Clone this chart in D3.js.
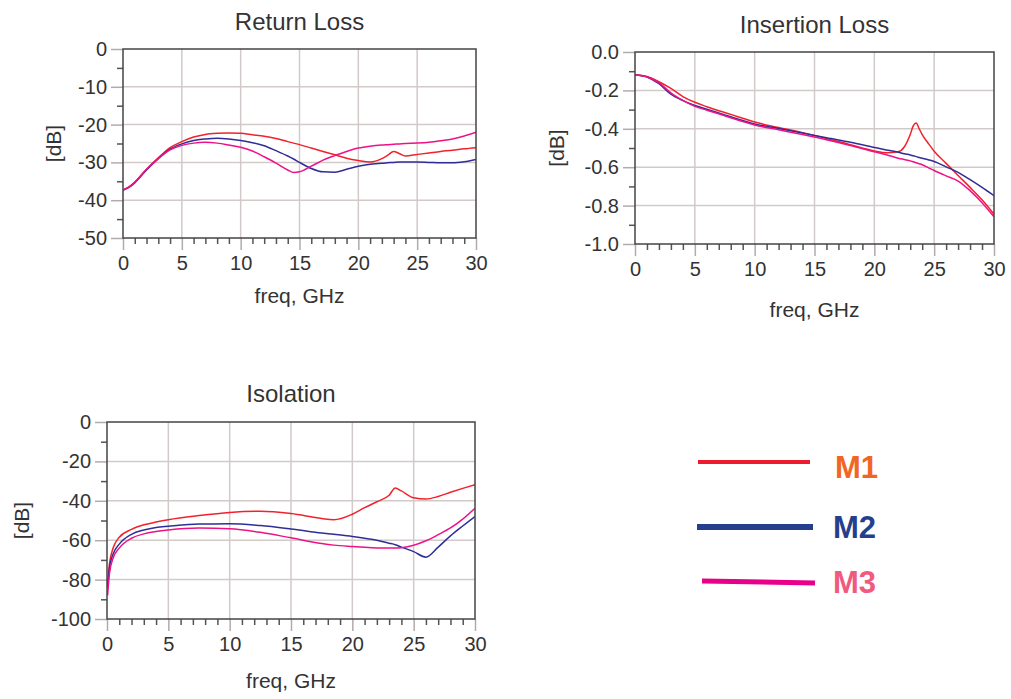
<!DOCTYPE html>
<html>
<head>
    <meta charset="utf-8">
    <title>S-parameters</title>
    <script src="https://d3js.org/d3.v7.min.js"></script>
    <style>
        html, body { margin: 0; padding: 0; background: #fff; }
        svg text { font-family: "Liberation Sans", Arial, sans-serif; }
    </style>
</head>
<body>
<div id="chart"></div>
<script>
    // Series names and colours
    const seriesNames = ["M1", "M2", "M3"];
    const lineColors = { M1: "#f2222c", M2: "#2e2e96", M3: "#ee1188" };
    const legendColors = { M1: "#ec1c2e", M2: "#263f8c", M3: "#e8008a" };
    const labelColors = { M1: "#f26522", M2: "#263f8c", M3: "#f05a7e" };

    // Shared x ticks (GHz)
    const xTicks = [0, 5, 10, 15, 20, 25, 30];

    // Return Loss
    const rlFreq = [0, 0.5, 1, 2, 3, 4, 5, 6, 7, 8, 9, 10, 11, 12, 13, 14, 14.5, 15, 16, 17, 18, 19, 20, 21, 22, 22.5, 23, 23.5, 24, 25, 26, 27, 28, 29, 30];
    const rlM1 = [-37.3, -36.5, -35.2, -31.8, -28.8, -26.1, -24.5, -23.3, -22.6, -22.3, -22.2, -22.3, -22.7, -23.1, -23.7, -24.5, -24.9, -25.3, -26.2, -27.1, -28.0, -28.9, -29.5, -29.9, -29.0, -28.1, -27.1, -27.7, -28.3, -27.9, -27.5, -27.1, -26.8, -26.4, -26.1];
    const rlM2 = [-37.3, -36.6, -35.4, -32.0, -29.0, -26.5, -25.1, -24.2, -23.8, -23.6, -23.8, -24.2, -24.8, -25.6, -26.9, -28.3, -29.1, -30.0, -31.6, -32.5, -32.6, -31.8, -31.0, -30.5, -30.2, -30.1, -30.0, -29.9, -29.9, -29.9, -30.0, -30.1, -30.1, -29.8, -29.2];
    const rlM3 = [-37.3, -36.6, -35.3, -31.8, -29.0, -26.7, -25.5, -24.9, -24.7, -24.9, -25.4, -26.0, -27.0, -28.5, -30.2, -32.0, -32.7, -32.5, -31.0, -29.4, -28.2, -27.1, -26.2, -25.7, -25.4, -25.3, -25.2, -25.1, -25.0, -24.9, -24.7, -24.3, -23.8, -23.0, -22.0];
    const rlTicks = [0, -10, -20, -30, -40, -50];

    // Insertion Loss
    const ilFreq = [0, 1, 2, 3, 4, 5, 6, 7, 8, 9, 10, 12, 14, 16, 18, 20, 21, 22, 22.5, 23, 23.25, 23.5, 23.75, 24, 24.5, 25, 26, 27, 28, 29, 30];
    const ilM1 = [-0.118, -0.128, -0.155, -0.19, -0.232, -0.262, -0.285, -0.306, -0.325, -0.345, -0.365, -0.393, -0.42, -0.45, -0.483, -0.515, -0.525, -0.52, -0.495, -0.43, -0.385, -0.37, -0.40, -0.43, -0.475, -0.517, -0.58, -0.643, -0.705, -0.77, -0.845];
    const ilM2 = [-0.118, -0.13, -0.165, -0.22, -0.253, -0.278, -0.298, -0.318, -0.337, -0.357, -0.375, -0.398, -0.422, -0.447, -0.47, -0.497, -0.51, -0.522, -0.53, -0.536, -0.54, -0.545, -0.549, -0.553, -0.561, -0.57, -0.598, -0.627, -0.665, -0.705, -0.748];
    const ilM3 = [-0.118, -0.13, -0.16, -0.213, -0.252, -0.283, -0.303, -0.322, -0.342, -0.362, -0.38, -0.405, -0.43, -0.457, -0.487, -0.52, -0.535, -0.553, -0.56, -0.567, -0.572, -0.577, -0.582, -0.587, -0.602, -0.617, -0.645, -0.672, -0.722, -0.785, -0.858];
    const ilTicks = [0.0, -0.2, -0.4, -0.6, -0.8, -1.0];

    // Isolation
    const isoFreq = [0.05, 0.2, 0.5, 1, 2, 3, 4, 5, 7.5, 10, 12.5, 15, 17.5, 18.5, 20, 21, 22, 23, 23.5, 24, 25, 26, 27, 28, 29, 30];
    const isoM1 = [-82, -72, -64, -58.5, -54.5, -52.2, -50.8, -49.6, -47.5, -45.9, -45.3, -46.5, -49.0, -49.6, -46.8, -43.5, -40.5, -37.2, -33.5, -35.0, -38.5, -39.1, -37.8, -35.7, -33.7, -31.8];
    const isoM2 = [-84, -74, -67, -62, -57, -54.8, -53.5, -52.9, -51.8, -51.7, -52.6, -54.3, -56.3, -57, -58.1, -59, -60, -61.5, -62.3, -63.5, -65.8, -68.6, -63.5, -57.8, -52.8, -48];
    const isoM3 = [-88, -77, -69, -64, -59, -56.8, -55.6, -54.8, -53.8, -54.2, -56, -58.8, -61.7, -62.5, -63.2, -63.6, -63.9, -64, -64, -63.8, -62.6, -60.3, -57.2, -53.8, -49.3, -43.8];
    const isoTicks = [0, -20, -40, -60, -80, -100];

    // plain hyphen for negative tick labels
    const locale = d3.formatLocale({ decimal: ".", thousands: ",", grouping: [3], currency: ["", ""], minus: "-" });

    const panels = [
        { title: "Return Loss", freq: rlFreq, series: [rlM1, rlM2, rlM3], yTicks: rlTicks, fmt: locale.format("d"),
          left: 123, right: 476, top: 49, bottom: 238, titleY: 30, xLabelY: 303, dbX: 54 },
        { title: "Insertion Loss", freq: ilFreq, series: [ilM1, ilM2, ilM3], yTicks: ilTicks, fmt: locale.format(".1f"),
          left: 635, right: 994, top: 52, bottom: 244, titleY: 33, xLabelY: 317, dbX: 557 },
        { title: "Isolation", freq: isoFreq, series: [isoM1, isoM2, isoM3], yTicks: isoTicks, fmt: locale.format("d"),
          left: 107, right: 475, top: 422, bottom: 619, titleY: 402, xLabelY: 688, dbX: 22 }
    ];

    const gridColor = "#d2c9c9";
    const tickColor = "#b3abab";
    const frameColor = "#444";
    const textColor = "#333";

    const svg = d3.select("#chart").append("svg")
        .attr("width", 1011)
        .attr("height", 699);

    svg.append("rect")
        .attr("width", 1011)
        .attr("height", 699)
        .attr("fill", "#fff");

    panels.forEach((p, idx) => {
        const yMin = d3.min(p.yTicks), yMax = d3.max(p.yTicks);
        const yStep = Math.abs(p.yTicks[1] - p.yTicks[0]);
        const x = d3.scaleLinear().domain([0, 30]).range([p.left, p.right]);
        const y = d3.scaleLinear().domain([yMin, yMax]).range([p.bottom, p.top]);
        const g = svg.append("g");
        const midX = (p.left + p.right) / 2;

        // grid
        g.append("g").selectAll("line").data(xTicks.slice(1, -1)).join("line")
            .attr("x1", d => x(d)).attr("x2", d => x(d))
            .attr("y1", p.top).attr("y2", p.bottom)
            .attr("stroke", gridColor).attr("stroke-width", 1.5);
        g.append("g").selectAll("line").data(p.yTicks.slice(1, -1)).join("line")
            .attr("x1", p.left).attr("x2", p.right)
            .attr("y1", d => y(d)).attr("y2", d => y(d))
            .attr("stroke", gridColor).attr("stroke-width", 1.5);

        // minor ticks
        const xMinor = d3.range(0, 31, 1).filter(d => d % 5 !== 0);
        const yMinor = p.yTicks.slice(0, -1).map(d => d - yStep / 2);

        const xMin = g.append("g")
            .attr("transform", `translate(0,${p.bottom})`)
            .call(d3.axisBottom(x).tickValues(xMinor).tickSize(6).tickFormat(""));
        const yMinAx = g.append("g")
            .attr("transform", `translate(${p.left},0)`)
            .call(d3.axisLeft(y).tickValues(yMinor).tickSize(6).tickFormat(""));
        [xMin, yMinAx].forEach(a => {
            a.select(".domain").remove();
            a.selectAll("line").attr("stroke", "#555").attr("stroke-width", 1.5);
        });

        // major ticks + labels
        const xMaj = g.append("g")
            .attr("transform", `translate(0,${p.bottom})`)
            .call(d3.axisBottom(x).tickValues(xTicks).tickSize(12).tickPadding(6).tickFormat(d3.format("d")));
        const yMaj = g.append("g")
            .attr("transform", `translate(${p.left},0)`)
            .call(d3.axisLeft(y).tickValues(p.yTicks).tickSize(12).tickPadding(4).tickFormat(p.fmt));
        [xMaj, yMaj].forEach(a => {
            a.select(".domain").remove();
            a.selectAll("line").attr("stroke", tickColor).attr("stroke-width", 1.5);
            a.selectAll("text")
                .attr("fill", textColor)
                .style("font-size", "20px")
                .style("font-family", "'Liberation Sans', Arial, sans-serif");
        });

        // curves
        const clipId = "clip" + idx;
        svg.append("clipPath").attr("id", clipId).append("rect")
            .attr("x", p.left).attr("y", p.top)
            .attr("width", p.right - p.left).attr("height", p.bottom - p.top);

        const line = d3.line()
            .x((d, i) => x(p.freq[i]))
            .y(d => y(d))
            .curve(d3.curveMonotoneX);

        p.series.forEach((vals, i) => {
            g.append("path")
                .datum(vals)
                .attr("clip-path", `url(#${clipId})`)
                .attr("fill", "none")
                .attr("stroke", lineColors[seriesNames[i]])
                .attr("stroke-width", 1.5)
                .attr("d", line);
        });

        // frame
        g.append("rect")
            .attr("x", p.left).attr("y", p.top)
            .attr("width", p.right - p.left).attr("height", p.bottom - p.top)
            .attr("fill", "none")
            .attr("stroke", frameColor)
            .attr("stroke-width", 1.5);

        // title
        g.append("text")
            .attr("x", midX).attr("y", p.titleY)
            .attr("text-anchor", "middle")
            .attr("fill", textColor)
            .style("font-size", "24px")
            .text(p.title);

        // x label
        g.append("text")
            .attr("x", midX).attr("y", p.xLabelY)
            .attr("text-anchor", "middle")
            .attr("fill", textColor)
            .style("font-size", "21px")
            .text("freq, GHz");

        // y label
        g.append("text")
            .attr("transform", `translate(${p.dbX},${(p.top + p.bottom) / 2}) rotate(-90)`)
            .attr("text-anchor", "middle")
            .attr("dy", "0.35em")
            .attr("fill", textColor)
            .style("font-size", "21px")
            .text("[dB]");
    });

    // legend
    const legendRows = [
        { x1: 698, x2: 810, y1: 462, y2: 462, w: 4, tx: 835, ty: 478 },
        { x1: 697, x2: 813, y1: 527, y2: 527, w: 6, tx: 833, ty: 538 },
        { x1: 702, x2: 815, y1: 581, y2: 583, w: 5, tx: 833, ty: 593 }
    ];
    const legend = svg.append("g");
    seriesNames.forEach((name, i) => {
        const r = legendRows[i];
        legend.append("line")
            .attr("x1", r.x1).attr("x2", r.x2)
            .attr("y1", r.y1).attr("y2", r.y2)
            .attr("stroke", legendColors[name])
            .attr("stroke-width", r.w);
        legend.append("text")
            .attr("x", r.tx).attr("y", r.ty)
            .attr("fill", labelColors[name])
            .style("font-size", "31px")
            .style("font-weight", "bold")
            .text(name);
    });
</script>
</body>
</html>
